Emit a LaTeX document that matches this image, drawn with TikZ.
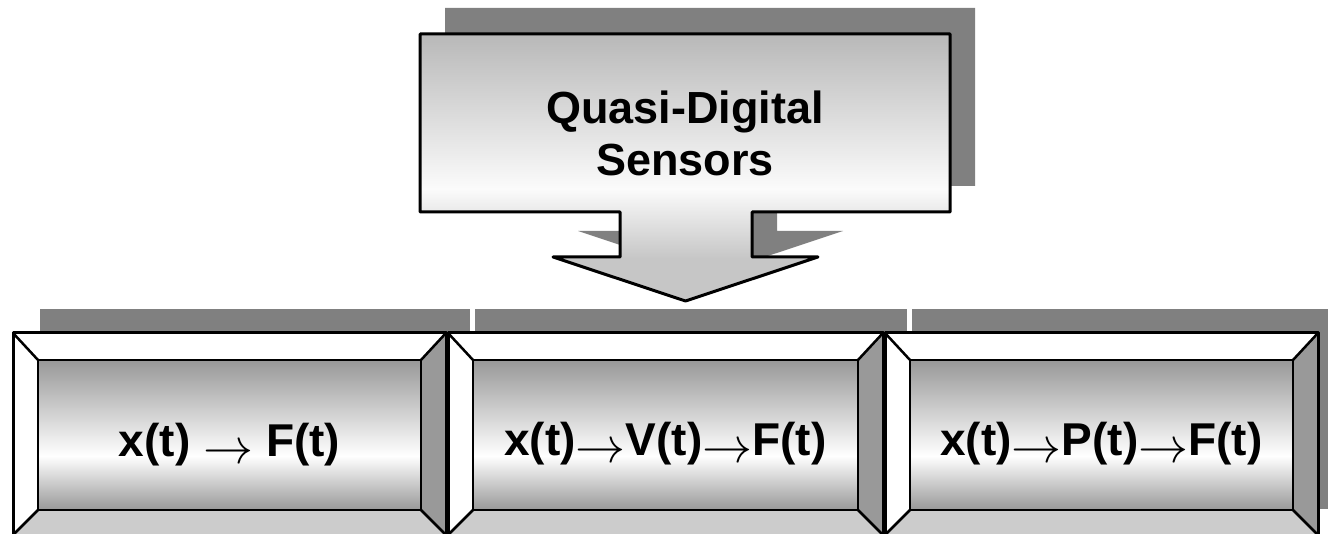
\documentclass[tikz,border=0pt]{standalone}
\usepackage{fontspec}
\usepackage{graphicx}
\setmainfont{Liberation Sans}

\definecolor{shadowgray}{RGB}{128,128,128}
\definecolor{rightbevel}{RGB}{153,153,153}
\definecolor{bottombevel}{RGB}{204,204,204}
\definecolor{faceedge}{RGB}{152,152,152}
\definecolor{calltop}{RGB}{184,184,184}
\definecolor{callmid}{RGB}{251,251,251}
\definecolor{callhead}{RGB}{198,198,198}

% face of a bevelled box: grey at top and bottom, white band below the middle
\pgfdeclareverticalshading{facefill}{100bp}{color(0bp)=(faceedge); color(25bp)=(faceedge); color(43bp)=(white); color(75bp)=(faceedge); color(100bp)=(faceedge)}
% down-arrow callout: grey top, white near the stem, light grey head
\pgfdeclareverticalshading{calloutfill}{100bp}{color(0bp)=(callhead); color(25bp)=(callhead); color(33bp)=(callhead); color(46bp)=(callmid); color(75bp)=(calltop); color(100bp)=(calltop)}

\tikzset{
  shadowfill/.style={fill=shadowgray, draw=white, line width=3pt},
  outline/.style={draw=black, line width=3pt, line join=round},
  bevelline/.style={draw=black, line width=2.5pt, line join=round},
  boxlabel/.style={font=\bfseries\fontsize{46}{55}\selectfont, inner sep=0pt, anchor=base},
  titlelabel/.style={font=\bfseries\fontsize{45}{52}\selectfont, inner sep=0pt, align=center, anchor=base},
}

% thin arrow set between the signal names, sitting low on the line
\newcommand{\sarrow}{\raisebox{-7pt}{\scalebox{5}{\fontsize{10}{12}\selectfont$\rightarrow$}}}

% #1 left edge, #2 right edge (top 333, bottom 535, inner face 360..510)
\newcommand{\bevelbox}[2]{%
  \fill[white] (#1,333) -- (#2,333) -- (#2-25,360) -- (#1+25,360) -- cycle;
  \fill[white] (#1,333) -- (#1+25,360) -- (#1+25,510) -- (#1,535) -- cycle;
  \fill[rightbevel] (#2,333) -- (#2,535) -- (#2-25,510) -- (#2-25,360) -- cycle;
  \fill[bottombevel] (#1,535) -- (#1+25,510) -- (#2-25,510) -- (#2,535) -- cycle;
  \shade[shading=facefill] (#1+25,360) rectangle (#2-25,510);
  \draw[bevelline] (#1,333) -- (#1+25,360) (#2,333) -- (#2-25,360)
                   (#1,535) -- (#1+25,510) (#2,535) -- (#2-25,510);
  \draw[bevelline] (#1+25,360) rectangle (#2-25,510);
  \draw[outline] (#1,333) rectangle (#2,535);
}

\begin{document}
\begin{tikzpicture}[x=1pt, y=-1pt]
  \useasboundingbox (0,0) rectangle (1328,534);
  \clip (0,0) rectangle (1328,534);

  % shadows
  \fill[shadowgray, shift={(25,-26)}]
    (420,34) -- (950,34) -- (950,212) -- (752,212) -- (752,257) -- (818,257)
    -- (685.5,301) -- (553,257) -- (620,257) -- (620,212) -- (420,212) -- cycle;
  \path[shadowfill] (38,308) rectangle (471,510);
  \path[shadowfill] (473,308) rectangle (908,510);
  \path[shadowfill] (910,308) rectangle (1345,510);

  % callout with arrow
  \path[shading=calloutfill, outline]
    (420,34) -- (950,34) -- (950,212) -- (752,212) -- (752,257) -- (818,257)
    -- (685.5,301) -- (553,257) -- (620,257) -- (620,212) -- (420,212) -- cycle;
  \node[titlelabel] (title) at (685,176) {Quasi-Digital\\Sensors};

  % bevelled boxes
  \bevelbox{13}{446}
  \bevelbox{448}{883}
  \bevelbox{885}{1318}

  \node[boxlabel] (b1) at (229.5,456) {x(t) \sarrow{} F(t)};
  \node[boxlabel] (b2) at (665.5,455) {x(t)\sarrow V(t)\sarrow F(t)};
  \node[boxlabel] (b3) at (1101.5,455) {x(t)\sarrow P(t)\sarrow F(t)};
\end{tikzpicture}
\end{document}
